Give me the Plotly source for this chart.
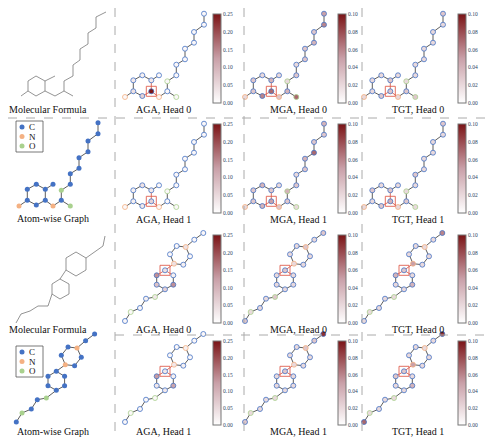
import plotly.graph_objects as go

W, H = 494, 437

# element colours
el_color = {"C": "#4472C4", "N": "#F4B183", "O": "#A9D18E"}

# molecule 1 (atom-wise graph), local px coords, y up
m1_x = [8.3, 17.3, 26.3, 26.3, 17.3, 8.3, 34, 0, 34, 42.3, 42.3, 51.3, 51.3, 51.3, 60, 60, 69, 69, 79, 79]
m1_y = [16.7, 21.7, 16.7, 5.7, 1, 5.7, 21.7, 0, 0, 5.7, 15.7, 0, 21.7, 32.3, 37.7, 48.3, 54.3, 65, 72.3, 83.3]
m1_el = ["C"] * 7 + ["N", "N", "C", "O", "O"] + ["C"] * 8
m1_edges = [(0, 1), (1, 2), (2, 3), (3, 4), (4, 5), (5, 0), (2, 6), (5, 7), (3, 8), (8, 9), (9, 10), (9, 11),
            (10, 12), (12, 13), (13, 14), (14, 15), (15, 16), (16, 17), (17, 18), (18, 19)]
m1_query = 3

# molecule 2
m2_x = [0, 5.7, 15, 21, 30, 40, 48.3, 48.3, 40, 31.7, 31.7, 49, 45, 51.7, 60.7, 65, 58.3, 69.3, 78.3]
m2_y = [0, 9, 13, 22.3, 24, 50.7, 45.7, 36.3, 31.7, 36.3, 45.7, 57.3, 66.7, 75, 74, 64.7, 56.3, 81.3, 88]
m2_el = ["C", "O", "C", "C", "O"] + ["C"] * 6 + ["N", "C", "C", "N", "C", "C", "C", "C"]
m2_edges = [(0, 1), (1, 2), (2, 3), (3, 4), (4, 8), (5, 6), (6, 7), (7, 8), (8, 9), (9, 10), (10, 5), (5, 11),
            (11, 12), (12, 13), (13, 14), (14, 15), (15, 16), (16, 11), (14, 17), (17, 18)]
m2_query = 5

# attention weights
aga_h0_m1 = [0.03, 0.02, 0.03, 0.25, 0.06, 0.04, 0.01, 0.01, 0.01, 0.01, 0.01, 0.01, 0.01, 0.01, 0.01, 0.01, 0.01, 0.01, 0.01, 0.01]
mga_h0_m1 = [0.03, 0.02, 0.04, 0.07, 0.06, 0.03, 0.02, 0.02, 0.03, 0.04, 0.02, 0.07, 0.03, 0.02, 0.03, 0.03, 0.04, 0.03, 0.06, 0.05]
tgt_h0_m1 = [0.02, 0.02, 0.03, 0.03, 0.03, 0.02, 0.02, 0.02, 0.02, 0.03, 0.02, 0.03, 0.02, 0.02, 0.02, 0.02, 0.02, 0.02, 0.02, 0.03]
aga_h1_m1 = [0.02, 0.04, 0.03, 0.06, 0.03, 0.02, 0.01, 0.01, 0.01, 0.01, 0.01, 0.01, 0.01, 0.01, 0.01, 0.01, 0.01, 0.01, 0.01, 0.01]
mga_h1_m1 = [0.03, 0.04, 0.03, 0.05, 0.04, 0.03, 0.02, 0.02, 0.03, 0.03, 0.04, 0.02, 0.03, 0.02, 0.03, 0.04, 0.07, 0.03, 0.03, 0.04]
tgt_h1_m1 = [0.03, 0.02, 0.03, 0.04, 0.03, 0.02, 0.02, 0.02, 0.02, 0.03, 0.02, 0.02, 0.02, 0.03, 0.02, 0.02, 0.02, 0.02, 0.02, 0.03]
aga_h0_m2 = [0.01, 0.01, 0.01, 0.02, 0.03, 0.04, 0.02, 0.14, 0.06, 0.08, 0.14, 0.04, 0.01, 0.01, 0.04, 0.01, 0.02, 0.01, 0.01]
mga_h0_m2 = [0.03, 0.02, 0.02, 0.02, 0.03, 0.03, 0.02, 0.02, 0.02, 0.02, 0.02, 0.02, 0.02, 0.02, 0.03, 0.02, 0.02, 0.02, 0.03]
tgt_h0_m2 = [0.02, 0.02, 0.02, 0.02, 0.02, 0.03, 0.02, 0.04, 0.02, 0.02, 0.04, 0.05, 0.02, 0.02, 0.02, 0.02, 0.02, 0.02, 0.06]
aga_h1_m2 = [0.01, 0.01, 0.01, 0.01, 0.01, 0.03, 0.02, 0.12, 0.03, 0.03, 0.13, 0.03, 0.01, 0.01, 0.02, 0.01, 0.02, 0.01, 0.01]
mga_h1_m2 = [0.03, 0.02, 0.02, 0.02, 0.02, 0.03, 0.02, 0.02, 0.02, 0.02, 0.02, 0.02, 0.02, 0.02, 0.03, 0.02, 0.02, 0.03, 0.09]
tgt_h1_m2 = [0.07, 0.02, 0.02, 0.02, 0.02, 0.03, 0.02, 0.04, 0.02, 0.02, 0.03, 0.05, 0.02, 0.02, 0.02, 0.02, 0.02, 0.02, 0.09]

col_names = ["AGA", "MGA", "TGT"]
col_max = [0.25, 0.10, 0.10]
col_dx = [117, 237, 356]
label_x = [155, 290, 410]
bar_x = [205, 330, 450]
rows = [
    # (molecule, head, weights, origin_y, bar_top, bar_bot, label_y)
    ("m1", 0, [aga_h0_m1, mga_h0_m1, tgt_h0_m1], 89, 6, 95, 101),
    ("m1", 1, [aga_h1_m1, mga_h1_m1, tgt_h1_m1], 199, 116, 205, 211),
    ("m2", 0, [aga_h0_m2, mga_h0_m2, tgt_h0_m2], 313, 227, 315, 321),
    ("m2", 1, [aga_h1_m2, mga_h1_m2, tgt_h1_m2], 414, 333, 417, 423),
]
mols = {"m1": (m1_x, m1_y, m1_el, m1_edges, m1_query), "m2": (m2_x, m2_y, m2_el, m2_edges, m2_query)}

scale = [[0, "#ffffff"], [0.5, "#c9a0a8"], [1, "#7b1416"]]
fig = go.Figure()
shapes = []
annos = []
layout_ca = {}


def draw_edges(mx, my, edges, ox, oy, query):
    ex, ey, rx, ry = [], [], [], []
    for a, b in edges:
        tx, ty = (rx, ry) if query in (a, b) else (ex, ey)
        tx += [ox + mx[a], ox + mx[b], None]
        ty += [oy - my[a], oy - my[b], None]
    fig.add_trace(go.Scatter(x=ex, y=ey, mode="lines", line=dict(color="#333", width=0.8), hoverinfo="skip"))
    if rx:
        fig.add_trace(go.Scatter(x=rx, y=ry, mode="lines", line=dict(color="#d04a3a", width=0.8), hoverinfo="skip"))


ca = 0
for r, (mk, head, weights, oy, bt, bb, lab_y) in enumerate(rows):
    mx, my, mel, medges, mq = mols[mk]
    for c in range(3):
        ca += 1
        ox = col_dx[c]
        draw_edges(mx, my, medges, ox, oy, mq)
        fig.add_trace(go.Scatter(
            x=[ox + v for v in mx], y=[oy - v for v in my], mode="markers",
            marker=dict(size=5, color=weights[c], coloraxis=f"coloraxis{ca}",
                        line=dict(color=[el_color[e] for e in mel], width=0.8)),
            hoverinfo="skip"))
        qx, qy = ox + mx[mq], oy - my[mq]
        shapes.append(dict(type="rect", x0=qx - 5, x1=qx + 5, y0=qy - 5, y1=qy + 5,
                           line=dict(color="#e06050", width=0.9)))
        layout_ca[f"coloraxis{ca}"] = dict(
            cmin=0, cmax=col_max[c], colorscale=scale,
            colorbar=dict(x=bar_x[c] / W, xanchor="left", y=1 - bb / H, yanchor="bottom",
                          len=(bb - bt) / H, lenmode="fraction", thickness=8, outlinewidth=1,
                          outlinecolor="#777", tickfont=dict(size=5.5, family="Liberation Serif"),
                          tickformat=".2f", dtick=0.05 if c == 0 else 0.02, ticks="", xpad=0, ypad=0))
        annos.append(dict(x=label_x[c], y=lab_y, text=f"{col_names[c]}, Head {head}", showarrow=False,
                          font=dict(size=10, family="Liberation Serif", color="#111")))

# atom-wise graphs in first column
for oy, mk in [(198, "m1"), (414, "m2")]:
    mx, my, mel, medges, mq = mols[mk]
    ox = 11 if mk == "m1" else 8.3
    draw_edges(mx, my, medges, ox, oy, -1)
    fig.add_trace(go.Scatter(x=[ox + v for v in mx], y=[oy - v for v in my], mode="markers",
                             marker=dict(size=5, color=[el_color[e] for e in mel]), hoverinfo="skip"))
    ly = 113 if mk == "m1" else 338
    shapes.append(dict(type="rect", x0=8, x1=35, y0=ly, y1=ly + 31, line=dict(color="#555", width=0.8)))
    for i, e in enumerate(["C", "N", "O"]):
        fig.add_trace(go.Scatter(x=[14], y=[ly + 6 + 9.5 * i], mode="markers",
                                 marker=dict(size=5, color=el_color[e]), hoverinfo="skip"))
        annos.append(dict(x=19, y=ly + 6 + 9.5 * i, text=e, showarrow=False, xanchor="left",
                          font=dict(size=9, family="Liberation Serif", color="#111")))
    annos.append(dict(x=45, y=210 if mk == "m1" else 423, text="Atom-wise Graph", showarrow=False,
                      font=dict(size=10, family="Liberation Serif", color="#111")))

# skeletal formulas (polylines, px)
f1_lines = [
    [(20, 73), (28, 68), (37, 73), (37, 83), (28, 88), (20, 83), (20, 73)],
    [(37, 73), (47, 68)], [(20, 83), (13, 88)],
    [(37, 83), (47, 88), (56, 83), (65, 88)],
    [(56, 83), (56, 73), (65, 68), (65, 57), (72, 52), (72, 41), (80, 36), (80, 25), (88, 20), (88, 9), (98, 4)],
]
f2_lines = [
    [(44, 276), (52, 271), (61, 276), (61, 286), (52, 291), (44, 286), (44, 276)],
    [(52, 271), (58, 262)],
    [(58, 262), (58, 250), (68, 244), (78, 250), (78, 262), (68, 268), (58, 262)],
    [(78, 250), (87, 244), (95, 238), (97, 228)],
    [(44, 286), (40, 298), (30, 298), (22, 303), (13, 306), (8, 315)],
]
for lines in (f1_lines, f2_lines):
    fx, fy = [], []
    for ln in lines:
        fx += [p[0] for p in ln] + [None]
        fy += [p[1] for p in ln] + [None]
    fig.add_trace(go.Scatter(x=fx, y=fy, mode="lines", line=dict(color="#666", width=0.7), hoverinfo="skip"))
annos.append(dict(x=40, y=101, text="Molecular Formula", showarrow=False, font=dict(size=10, family="Liberation Serif", color="#111")))
annos.append(dict(x=40, y=321, text="Molecular Formula", showarrow=False, font=dict(size=10, family="Liberation Serif", color="#111")))

# dashed separators
dash = dict(color="#aaa", width=1, dash="dash")
shapes += [dict(type="line", x0=107, x1=107, y0=0, y1=H, line=dash),
           dict(type="line", x0=236, x1=236, y0=0, y1=H, line=dash),
           dict(type="line", x0=354, x1=354, y0=0, y1=H, line=dash),
           dict(type="line", x0=0, x1=W, y0=110, y1=110, line=dash),
           dict(type="line", x0=107, x1=W, y0=327, y1=327, line=dash)]

fig.update_layout(
    width=W, height=H, margin=dict(l=0, r=0, t=0, b=0), showlegend=False,
    plot_bgcolor="white", paper_bgcolor="white",
    xaxis=dict(range=[0, W], visible=False, fixedrange=True),
    yaxis=dict(range=[H, 0], visible=False, fixedrange=True),
    shapes=shapes, annotations=annos, **layout_ca)

fig.write_html("out.html")
